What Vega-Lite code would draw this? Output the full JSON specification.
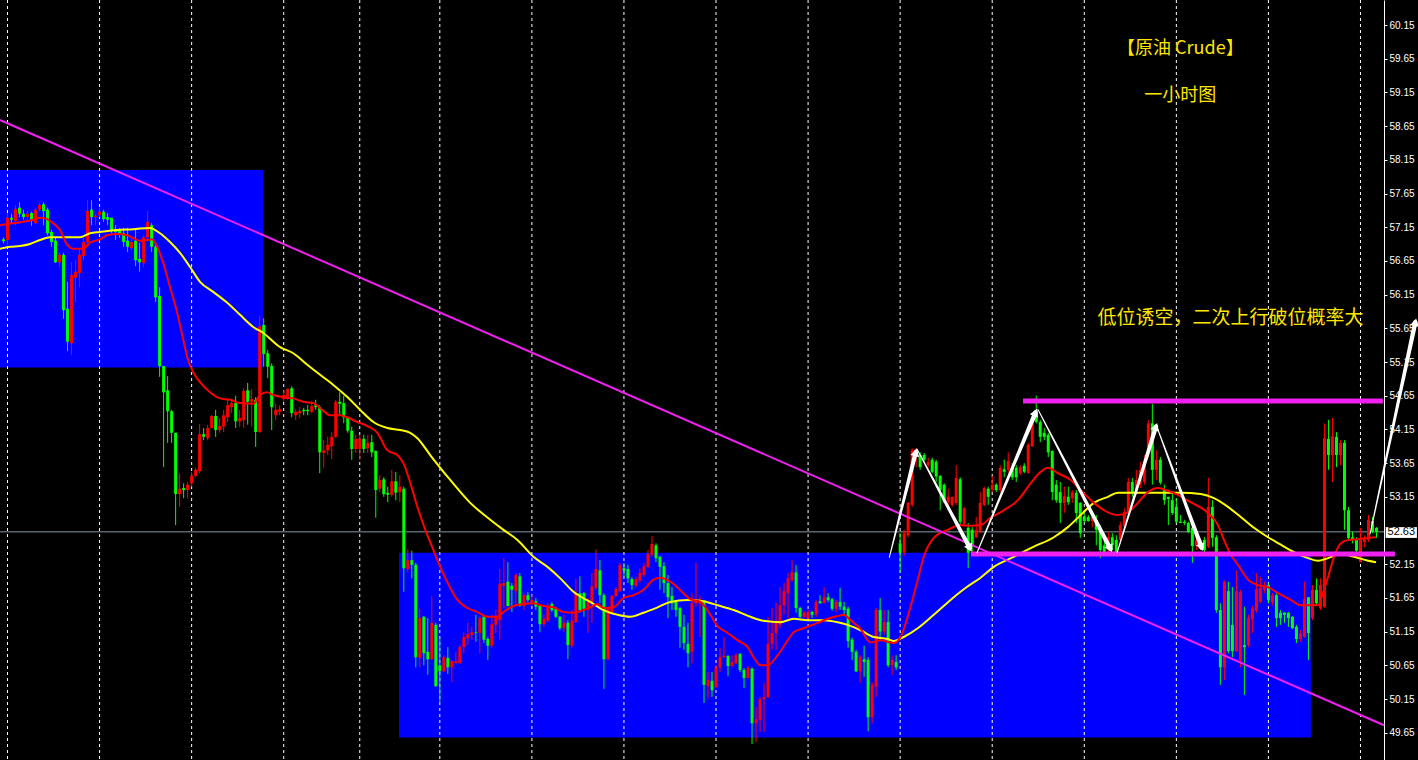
{
"$schema":"https://vega.github.io/schema/vega-lite/v6.json",
"width":1384,"height":760,"autosize":{"type":"none"},
"padding":{"left":0,"top":0,"right":34,"bottom":0},
"background":"#000000",
"config":{"view":{"stroke":null},"axis":{"labelOverlap":false},"axisY":{"labelOverlap":false}},
"datasets":{
"zones":[{"x1":-0.875,"x2":64.9,"p1":58.00,"p2":55.07},{"x1":98.8,"x2":326.6,"p1":52.32,"p2":49.58}],
"grid":[{"i":1},{"i":24},{"i":47},{"i":70},{"i":89},{"i":109},{"i":132},{"i":155},{"i":178},{"i":201},{"i":224},{"i":247},{"i":270},{"i":293},{"i":316},{"i":339}],
"last":[{"p":52.63}],
"candles":[
{"i":0,"o":56.97,"h":57.00,"l":56.91,"c":56.94},{"i":1,"o":56.96,"h":57.36,"l":56.89,"c":57.29},{"i":2,"o":57.29,"h":57.35,"l":57.21,"c":57.26},{"i":3,"o":57.24,"h":57.48,"l":57.18,"c":57.42},{"i":4,"o":57.44,"h":57.52,"l":57.30,"c":57.35},{"i":5,"o":57.35,"h":57.41,"l":57.26,"c":57.30},{"i":6,"o":57.30,"h":57.39,"l":57.26,"c":57.35},{"i":7,"o":57.36,"h":57.38,"l":57.17,"c":57.26},{"i":8,"o":57.21,"h":57.44,"l":57.20,"c":57.41},{"i":9,"o":57.41,"h":57.51,"l":57.38,"c":57.48},
{"i":10,"o":57.49,"h":57.52,"l":57.18,"c":57.39},{"i":11,"o":57.41,"h":57.44,"l":57.03,"c":57.06},{"i":12,"o":57.08,"h":57.11,"l":56.86,"c":56.93},{"i":13,"o":56.95,"h":57.00,"l":56.62,"c":56.63},{"i":14,"o":56.63,"h":56.77,"l":56.56,"c":56.74},{"i":15,"o":56.74,"h":56.77,"l":55.79,"c":55.92},{"i":16,"o":55.94,"h":56.34,"l":55.31,"c":55.45},{"i":17,"o":55.43,"h":56.63,"l":55.25,"c":56.44},{"i":18,"o":56.40,"h":56.66,"l":56.04,"c":56.49},{"i":19,"o":56.47,"h":56.84,"l":56.26,"c":56.74},
{"i":20,"o":56.72,"h":56.99,"l":56.66,"c":56.93},{"i":21,"o":56.93,"h":57.55,"l":56.91,"c":57.39},{"i":22,"o":57.41,"h":57.55,"l":57.18,"c":57.30},{"i":23,"o":57.30,"h":57.35,"l":57.18,"c":57.32},{"i":24,"o":57.33,"h":57.44,"l":57.30,"c":57.38},{"i":25,"o":57.38,"h":57.41,"l":57.23,"c":57.27},{"i":26,"o":57.30,"h":57.36,"l":57.18,"c":57.26},{"i":27,"o":57.29,"h":57.29,"l":57.06,"c":57.09},{"i":28,"o":57.12,"h":57.18,"l":56.96,"c":57.08},{"i":29,"o":57.11,"h":57.14,"l":56.99,"c":57.05},
{"i":30,"o":57.06,"h":57.14,"l":56.86,"c":56.93},{"i":31,"o":56.95,"h":57.14,"l":56.78,"c":56.86},{"i":32,"o":56.84,"h":57.00,"l":56.81,"c":56.93},{"i":33,"o":56.95,"h":57.11,"l":56.57,"c":56.66},{"i":34,"o":56.68,"h":56.92,"l":56.49,"c":56.63},{"i":35,"o":56.62,"h":57.03,"l":56.56,"c":57.00},{"i":36,"o":57.00,"h":57.39,"l":56.96,"c":57.23},{"i":37,"o":57.18,"h":57.21,"l":56.78,"c":56.86},{"i":38,"o":56.86,"h":56.89,"l":56.04,"c":56.11},{"i":39,"o":56.13,"h":56.26,"l":54.93,"c":55.09},
{"i":40,"o":55.09,"h":55.09,"l":53.59,"c":54.70},{"i":41,"o":54.73,"h":54.94,"l":53.95,"c":54.42},{"i":42,"o":54.42,"h":54.44,"l":53.95,"c":54.10},{"i":43,"o":54.10,"h":54.10,"l":52.73,"c":53.19},{"i":44,"o":53.19,"h":53.50,"l":53.00,"c":53.27},{"i":45,"o":53.28,"h":53.35,"l":53.13,"c":53.25},{"i":46,"o":53.25,"h":53.37,"l":53.12,"c":53.33},{"i":47,"o":53.35,"h":53.52,"l":53.30,"c":53.46},{"i":48,"o":53.46,"h":53.58,"l":53.44,"c":53.55},{"i":49,"o":53.53,"h":54.23,"l":53.50,"c":54.08},
{"i":50,"o":54.08,"h":54.17,"l":53.99,"c":54.04},{"i":51,"o":54.02,"h":54.22,"l":53.99,"c":54.17},{"i":52,"o":54.17,"h":54.36,"l":54.17,"c":54.35},{"i":53,"o":54.35,"h":54.44,"l":54.04,"c":54.14},{"i":54,"o":54.14,"h":54.32,"l":54.10,"c":54.20},{"i":55,"o":54.19,"h":54.44,"l":54.11,"c":54.36},{"i":56,"o":54.33,"h":54.60,"l":54.26,"c":54.51},{"i":57,"o":54.48,"h":54.61,"l":54.39,"c":54.54},{"i":58,"o":54.54,"h":54.65,"l":54.17,"c":54.27},{"i":59,"o":54.27,"h":54.44,"l":54.19,"c":54.32},
{"i":60,"o":54.29,"h":54.76,"l":54.17,"c":54.72},{"i":61,"o":54.73,"h":54.84,"l":54.22,"c":54.56},{"i":62,"o":54.56,"h":54.75,"l":54.19,"c":54.60},{"i":63,"o":54.59,"h":54.63,"l":53.89,"c":54.11},{"i":64,"o":54.11,"h":55.83,"l":54.10,"c":55.68},{"i":65,"o":55.70,"h":55.80,"l":55.08,"c":55.27},{"i":66,"o":55.28,"h":55.33,"l":54.91,"c":55.08},{"i":67,"o":55.09,"h":55.13,"l":54.14,"c":54.48},{"i":68,"o":54.36,"h":54.53,"l":54.29,"c":54.44},{"i":69,"o":54.41,"h":54.51,"l":54.36,"c":54.45},
{"i":70,"o":54.60,"h":54.73,"l":54.56,"c":54.66},{"i":71,"o":54.60,"h":54.76,"l":54.59,"c":54.75},{"i":72,"o":54.76,"h":54.79,"l":54.33,"c":54.39},{"i":73,"o":54.36,"h":54.45,"l":54.29,"c":54.41},{"i":74,"o":54.39,"h":54.48,"l":54.32,"c":54.42},{"i":75,"o":54.44,"h":54.47,"l":54.36,"c":54.42},{"i":76,"o":54.44,"h":54.51,"l":54.36,"c":54.42},{"i":77,"o":54.41,"h":54.57,"l":54.39,"c":54.50},{"i":78,"o":54.51,"h":54.59,"l":54.44,"c":54.48},{"i":79,"o":54.48,"h":54.51,"l":53.50,"c":53.81},
{"i":80,"o":53.80,"h":53.99,"l":53.58,"c":53.84},{"i":81,"o":53.84,"h":54.04,"l":53.77,"c":53.92},{"i":82,"o":53.90,"h":54.11,"l":53.71,"c":54.04},{"i":83,"o":54.04,"h":54.59,"l":54.02,"c":54.56},{"i":84,"o":54.56,"h":54.70,"l":54.36,"c":54.53},{"i":85,"o":54.54,"h":54.65,"l":54.24,"c":54.33},{"i":86,"o":54.33,"h":54.33,"l":54.10,"c":54.13},{"i":87,"o":54.13,"h":54.19,"l":53.70,"c":53.86},{"i":88,"o":53.86,"h":54.07,"l":53.80,"c":54.01},{"i":89,"o":53.86,"h":54.07,"l":53.70,"c":54.01},
{"i":90,"o":54.01,"h":54.07,"l":53.80,"c":53.86},{"i":91,"o":53.87,"h":54.07,"l":53.80,"c":53.95},{"i":92,"o":53.96,"h":54.07,"l":53.74,"c":53.81},{"i":93,"o":53.83,"h":53.84,"l":52.84,"c":53.25},{"i":94,"o":53.27,"h":53.47,"l":53.22,"c":53.40},{"i":95,"o":53.41,"h":53.44,"l":53.15,"c":53.19},{"i":96,"o":53.21,"h":53.30,"l":53.07,"c":53.18},{"i":97,"o":53.18,"h":53.55,"l":53.15,"c":53.38},{"i":98,"o":53.38,"h":53.52,"l":53.10,"c":53.21},{"i":99,"o":53.22,"h":53.47,"l":53.07,"c":53.30},
{"i":100,"o":53.27,"h":53.30,"l":51.74,"c":52.09},{"i":101,"o":52.08,"h":52.37,"l":52.03,"c":52.21},{"i":102,"o":52.21,"h":52.35,"l":51.94,"c":52.14},{"i":103,"o":52.14,"h":52.17,"l":50.62,"c":50.77},{"i":104,"o":50.76,"h":51.49,"l":50.62,"c":51.35},{"i":105,"o":51.37,"h":51.38,"l":50.65,"c":50.83},{"i":106,"o":50.85,"h":51.35,"l":50.51,"c":50.74},{"i":107,"o":50.74,"h":51.68,"l":50.73,"c":51.28},{"i":108,"o":51.25,"h":51.28,"l":50.33,"c":50.34},{"i":109,"o":50.65,"h":51.06,"l":50.10,"c":50.56},
{"i":110,"o":50.56,"h":50.80,"l":50.55,"c":50.77},{"i":111,"o":50.76,"h":50.92,"l":50.52,"c":50.62},{"i":112,"o":50.62,"h":50.73,"l":50.40,"c":50.71},{"i":113,"o":50.68,"h":50.85,"l":50.68,"c":50.71},{"i":114,"o":50.68,"h":50.95,"l":50.68,"c":50.92},{"i":115,"o":50.92,"h":51.14,"l":50.83,"c":51.07},{"i":116,"o":51.05,"h":51.28,"l":50.95,"c":51.11},{"i":117,"o":51.10,"h":51.22,"l":51.03,"c":51.14},{"i":118,"o":51.14,"h":51.40,"l":51.00,"c":51.13},{"i":119,"o":51.13,"h":51.38,"l":50.83,"c":51.35},
{"i":120,"o":51.37,"h":51.40,"l":50.98,"c":51.03},{"i":121,"o":51.04,"h":51.07,"l":50.73,"c":50.94},{"i":122,"o":50.94,"h":51.40,"l":50.91,"c":51.26},{"i":123,"o":51.25,"h":51.47,"l":51.13,"c":51.37},{"i":124,"o":51.32,"h":52.08,"l":51.03,"c":51.86},{"i":125,"o":51.83,"h":52.24,"l":51.50,"c":51.87},{"i":126,"o":51.89,"h":52.18,"l":51.52,"c":51.53},{"i":127,"o":51.83,"h":51.87,"l":51.44,"c":51.77},{"i":128,"o":51.75,"h":52.02,"l":51.54,"c":51.99},{"i":129,"o":51.97,"h":52.02,"l":51.52,"c":51.53},
{"i":130,"o":51.53,"h":51.72,"l":51.47,"c":51.69},{"i":131,"o":51.69,"h":51.74,"l":51.59,"c":51.62},{"i":132,"o":51.59,"h":51.69,"l":51.54,"c":51.62},{"i":133,"o":51.60,"h":51.65,"l":51.47,"c":51.52},{"i":134,"o":51.53,"h":51.54,"l":51.14,"c":51.26},{"i":135,"o":51.26,"h":51.40,"l":51.22,"c":51.34},{"i":136,"o":51.31,"h":51.57,"l":51.29,"c":51.53},{"i":137,"o":51.56,"h":51.59,"l":51.44,"c":51.47},{"i":138,"o":51.49,"h":51.52,"l":51.35,"c":51.37},{"i":139,"o":51.37,"h":51.38,"l":51.17,"c":51.20},
{"i":140,"o":51.20,"h":51.40,"l":51.14,"c":51.28},{"i":141,"o":51.28,"h":51.32,"l":50.74,"c":50.95},{"i":142,"o":50.94,"h":51.47,"l":50.91,"c":51.31},{"i":143,"o":51.29,"h":51.93,"l":51.28,"c":51.72},{"i":144,"o":51.72,"h":51.97,"l":51.43,"c":51.47},{"i":145,"o":51.72,"h":51.74,"l":51.37,"c":51.49},{"i":146,"o":51.47,"h":51.65,"l":51.13,"c":51.59},{"i":147,"o":51.57,"h":52.02,"l":51.28,"c":51.82},{"i":148,"o":51.80,"h":52.37,"l":51.77,"c":52.08},{"i":149,"o":52.06,"h":52.21,"l":51.57,"c":51.69},
{"i":150,"o":51.69,"h":51.72,"l":50.30,"c":50.74},{"i":151,"o":50.74,"h":51.51,"l":50.73,"c":51.51},{"i":152,"o":51.43,"h":51.69,"l":51.40,"c":51.68},{"i":153,"o":51.68,"h":51.81,"l":51.66,"c":51.78},{"i":154,"o":51.75,"h":52.17,"l":51.74,"c":52.14},{"i":155,"o":52.09,"h":52.17,"l":51.96,"c":52.06},{"i":156,"o":52.08,"h":52.14,"l":51.87,"c":51.94},{"i":157,"o":51.93,"h":51.96,"l":51.77,"c":51.84},{"i":158,"o":51.83,"h":51.96,"l":51.81,"c":51.93},{"i":159,"o":51.91,"h":52.09,"l":51.87,"c":52.02},
{"i":160,"o":51.99,"h":52.17,"l":51.96,"c":52.12},{"i":161,"o":52.11,"h":52.36,"l":52.09,"c":52.30},{"i":162,"o":52.29,"h":52.57,"l":52.26,"c":52.45},{"i":163,"o":52.43,"h":52.46,"l":52.18,"c":52.24},{"i":164,"o":52.26,"h":52.27,"l":51.77,"c":52.11},{"i":165,"o":52.12,"h":52.18,"l":51.72,"c":51.87},{"i":166,"o":51.87,"h":51.99,"l":51.35,"c":51.66},{"i":167,"o":51.68,"h":51.81,"l":51.47,"c":51.57},{"i":168,"o":51.59,"h":51.62,"l":51.37,"c":51.47},{"i":169,"o":51.50,"h":51.52,"l":50.91,"c":51.22},
{"i":170,"o":51.22,"h":51.40,"l":50.88,"c":50.98},{"i":171,"o":50.97,"h":51.28,"l":50.62,"c":50.83},{"i":172,"o":50.85,"h":51.72,"l":50.68,"c":51.57},{"i":173,"o":51.57,"h":52.17,"l":51.52,"c":51.62},{"i":174,"o":51.57,"h":51.68,"l":51.07,"c":51.63},{"i":175,"o":51.59,"h":51.62,"l":50.09,"c":50.36},{"i":176,"o":50.34,"h":50.55,"l":50.16,"c":50.43},{"i":177,"o":50.42,"h":50.55,"l":50.18,"c":50.28},{"i":178,"o":50.33,"h":50.65,"l":50.31,"c":50.62},{"i":179,"o":50.62,"h":50.91,"l":50.55,"c":50.77},
{"i":180,"o":50.77,"h":51.07,"l":50.76,"c":50.79},{"i":181,"o":50.79,"h":50.80,"l":50.49,"c":50.64},{"i":182,"o":50.64,"h":50.80,"l":50.62,"c":50.70},{"i":183,"o":50.68,"h":50.83,"l":50.67,"c":50.80},{"i":184,"o":50.82,"h":50.83,"l":50.55,"c":50.58},{"i":185,"o":50.58,"h":50.61,"l":50.31,"c":50.46},{"i":186,"o":50.46,"h":50.64,"l":50.46,"c":50.61},{"i":187,"o":50.60,"h":50.62,"l":49.48,"c":49.79},{"i":188,"o":49.79,"h":50.03,"l":49.51,"c":49.85},{"i":189,"o":49.84,"h":50.18,"l":49.66,"c":50.15},
{"i":190,"o":50.15,"h":50.39,"l":49.66,"c":50.18},{"i":191,"o":50.18,"h":51.37,"l":50.16,"c":50.97},{"i":192,"o":50.97,"h":51.50,"l":50.88,"c":51.13},{"i":193,"o":51.13,"h":51.59,"l":50.88,"c":51.28},{"i":194,"o":51.25,"h":51.81,"l":51.20,"c":51.54},{"i":195,"o":51.54,"h":51.87,"l":51.40,"c":51.75},{"i":196,"o":51.72,"h":52.02,"l":51.35,"c":51.94},{"i":197,"o":51.91,"h":52.21,"l":51.89,"c":52.03},{"i":198,"o":52.03,"h":52.14,"l":51.43,"c":51.50},{"i":199,"o":51.50,"h":51.52,"l":51.35,"c":51.37},
{"i":200,"o":51.37,"h":51.46,"l":51.35,"c":51.43},{"i":201,"o":51.35,"h":51.47,"l":51.34,"c":51.44},{"i":202,"o":51.44,"h":51.46,"l":51.35,"c":51.40},{"i":203,"o":51.40,"h":51.62,"l":51.37,"c":51.59},{"i":204,"o":51.60,"h":51.69,"l":51.57,"c":51.57},{"i":205,"o":51.57,"h":51.81,"l":51.57,"c":51.66},{"i":206,"o":51.66,"h":51.72,"l":51.59,"c":51.62},{"i":207,"o":51.63,"h":51.65,"l":51.46,"c":51.49},{"i":208,"o":51.49,"h":51.62,"l":51.44,"c":51.59},{"i":209,"o":51.59,"h":51.80,"l":51.47,"c":51.52},
{"i":210,"o":51.52,"h":51.59,"l":51.38,"c":51.47},{"i":211,"o":51.49,"h":51.52,"l":50.91,"c":51.01},{"i":212,"o":51.03,"h":51.06,"l":50.73,"c":50.85},{"i":213,"o":50.85,"h":50.88,"l":50.55,"c":50.56},{"i":214,"o":50.56,"h":50.80,"l":50.39,"c":50.77},{"i":215,"o":50.74,"h":50.94,"l":50.48,"c":50.70},{"i":216,"o":50.73,"h":50.77,"l":49.67,"c":49.88},{"i":217,"o":49.88,"h":50.40,"l":49.79,"c":50.36},{"i":218,"o":50.33,"h":51.50,"l":50.18,"c":51.47},{"i":219,"o":51.47,"h":51.65,"l":51.03,"c":51.15},
{"i":220,"o":51.15,"h":51.47,"l":51.10,"c":51.29},{"i":221,"o":51.29,"h":51.47,"l":50.62,"c":50.65},{"i":222,"o":50.65,"h":50.80,"l":50.51,"c":50.73},{"i":223,"o":50.70,"h":50.80,"l":50.58,"c":50.62},{"i":224,"o":52.46,"h":52.61,"l":52.03,"c":52.32},{"i":225,"o":52.32,"h":52.66,"l":52.27,"c":52.61},{"i":226,"o":52.58,"h":53.07,"l":52.55,"c":53.06},{"i":227,"o":53.03,"h":53.87,"l":53.00,"c":53.84},{"i":228,"o":53.74,"h":53.87,"l":53.59,"c":53.86},{"i":229,"o":53.77,"h":53.81,"l":53.55,"c":53.59},
{"i":230,"o":53.77,"h":53.80,"l":53.67,"c":53.70},{"i":231,"o":53.62,"h":53.73,"l":53.58,"c":53.67},{"i":232,"o":53.70,"h":53.73,"l":53.50,"c":53.52},{"i":233,"o":53.67,"h":53.70,"l":53.37,"c":53.45},{"i":234,"o":53.46,"h":53.47,"l":52.95,"c":53.25},{"i":235,"o":53.33,"h":53.35,"l":53.06,"c":53.07},{"i":236,"o":53.07,"h":53.27,"l":52.95,"c":53.15},{"i":237,"o":53.03,"h":53.15,"l":53.00,"c":53.15},{"i":238,"o":53.06,"h":53.62,"l":53.03,"c":53.43},{"i":239,"o":53.41,"h":53.44,"l":52.73,"c":52.78},
{"i":240,"o":52.75,"h":53.00,"l":52.70,"c":52.98},{"i":241,"o":52.69,"h":52.76,"l":52.09,"c":52.32},{"i":242,"o":52.66,"h":52.70,"l":52.29,"c":52.41},{"i":243,"o":52.55,"h":52.85,"l":52.54,"c":52.66},{"i":244,"o":52.64,"h":53.22,"l":52.61,"c":53.06},{"i":245,"o":53.03,"h":53.30,"l":53.01,"c":53.28},{"i":246,"o":53.27,"h":53.30,"l":53.03,"c":53.15},{"i":247,"o":53.25,"h":53.46,"l":53.22,"c":53.33},{"i":248,"o":53.33,"h":53.35,"l":53.22,"c":53.25},{"i":249,"o":53.25,"h":53.62,"l":53.22,"c":53.58},
{"i":250,"o":53.56,"h":53.70,"l":53.44,"c":53.52},{"i":251,"o":53.55,"h":53.81,"l":53.50,"c":53.68},{"i":252,"o":53.58,"h":53.65,"l":53.40,"c":53.44},{"i":253,"o":53.58,"h":53.62,"l":53.37,"c":53.44},{"i":254,"o":53.50,"h":53.62,"l":53.47,"c":53.59},{"i":255,"o":53.61,"h":53.65,"l":53.50,"c":53.52},{"i":256,"o":53.50,"h":53.95,"l":53.50,"c":53.92},{"i":257,"o":53.90,"h":54.36,"l":53.89,"c":54.29},{"i":258,"o":54.44,"h":54.65,"l":54.24,"c":54.26},{"i":259,"o":54.26,"h":54.29,"l":53.96,"c":54.04},
{"i":260,"o":54.10,"h":54.17,"l":53.99,"c":54.04},{"i":261,"o":54.07,"h":54.10,"l":53.74,"c":53.81},{"i":262,"o":53.83,"h":53.84,"l":53.10,"c":53.22},{"i":263,"o":53.33,"h":53.40,"l":53.06,"c":53.10},{"i":264,"o":53.22,"h":53.37,"l":52.76,"c":53.06},{"i":265,"o":53.06,"h":53.30,"l":52.91,"c":53.16},{"i":266,"o":53.15,"h":53.30,"l":53.03,"c":53.07},{"i":267,"o":53.13,"h":53.25,"l":53.06,"c":53.22},{"i":268,"o":53.21,"h":53.25,"l":52.76,"c":52.91},{"i":269,"o":53.06,"h":53.07,"l":52.54,"c":52.61},
{"i":270,"o":52.86,"h":52.92,"l":52.76,"c":52.79},{"i":271,"o":52.85,"h":52.88,"l":52.78,"c":52.79},{"i":272,"o":52.79,"h":52.91,"l":52.70,"c":52.85},{"i":273,"o":52.81,"h":52.88,"l":52.43,"c":52.66},{"i":274,"o":52.69,"h":52.73,"l":52.24,"c":52.36},{"i":275,"o":52.43,"h":52.51,"l":52.29,"c":52.33},{"i":276,"o":52.36,"h":52.63,"l":52.32,"c":52.55},{"i":277,"o":52.55,"h":52.61,"l":52.36,"c":52.43},{"i":278,"o":52.51,"h":52.58,"l":52.29,"c":52.33},{"i":279,"o":52.51,"h":52.78,"l":52.46,"c":52.73},
{"i":280,"o":52.72,"h":52.98,"l":52.66,"c":52.92},{"i":281,"o":52.92,"h":53.43,"l":52.88,"c":53.37},{"i":282,"o":53.37,"h":53.43,"l":53.15,"c":53.22},{"i":283,"o":53.25,"h":53.55,"l":53.18,"c":53.40},{"i":284,"o":53.34,"h":53.67,"l":53.28,"c":53.55},{"i":285,"o":53.37,"h":53.77,"l":53.33,"c":53.67},{"i":286,"o":53.89,"h":54.29,"l":53.74,"c":54.24},{"i":287,"o":54.24,"h":54.53,"l":53.33,"c":53.55},{"i":288,"o":53.55,"h":53.84,"l":53.40,"c":53.70},{"i":289,"o":53.70,"h":53.74,"l":53.33,"c":53.36},
{"i":290,"o":53.25,"h":53.33,"l":53.03,"c":53.10},{"i":291,"o":53.15,"h":53.15,"l":52.73,"c":53.12},{"i":292,"o":53.10,"h":53.21,"l":52.88,"c":52.91},{"i":293,"o":53.00,"h":53.13,"l":52.76,"c":52.78},{"i":294,"o":52.78,"h":52.88,"l":52.76,"c":52.76},{"i":295,"o":52.78,"h":52.81,"l":52.73,"c":52.76},{"i":296,"o":52.76,"h":52.78,"l":52.61,"c":52.63},{"i":297,"o":52.69,"h":52.70,"l":52.17,"c":52.42},{"i":298,"o":52.42,"h":52.54,"l":52.36,"c":52.51},{"i":299,"o":52.38,"h":52.54,"l":52.36,"c":52.51},
{"i":300,"o":52.51,"h":52.55,"l":52.33,"c":52.36},{"i":301,"o":52.41,"h":53.43,"l":52.39,"c":53.00},{"i":302,"o":53.00,"h":53.10,"l":52.41,"c":52.54},{"i":303,"o":52.55,"h":52.58,"l":51.43,"c":51.47},{"i":304,"o":51.47,"h":51.57,"l":50.36,"c":50.62},{"i":305,"o":50.62,"h":51.91,"l":50.43,"c":51.89},{"i":306,"o":51.75,"h":51.89,"l":50.83,"c":50.86},{"i":307,"o":51.25,"h":51.81,"l":50.77,"c":50.86},{"i":308,"o":50.86,"h":52.06,"l":50.85,"c":51.75},{"i":309,"o":50.73,"h":51.77,"l":50.62,"c":51.74},
{"i":310,"o":50.95,"h":51.52,"l":50.21,"c":50.92},{"i":311,"o":50.95,"h":51.40,"l":50.92,"c":51.35},{"i":312,"o":51.34,"h":51.53,"l":51.13,"c":51.49},{"i":313,"o":51.46,"h":52.02,"l":51.43,"c":51.78},{"i":314,"o":51.59,"h":51.96,"l":51.57,"c":51.80},{"i":315,"o":51.77,"h":51.89,"l":51.72,"c":51.81},{"i":316,"o":51.84,"h":51.87,"l":51.57,"c":51.62},{"i":317,"o":51.59,"h":51.72,"l":51.54,"c":51.69},{"i":318,"o":51.69,"h":51.72,"l":51.22,"c":51.35},{"i":319,"o":51.43,"h":51.47,"l":51.25,"c":51.35},
{"i":320,"o":51.43,"h":51.44,"l":51.28,"c":51.40},{"i":321,"o":51.43,"h":51.44,"l":51.22,"c":51.35},{"i":322,"o":51.37,"h":51.38,"l":51.19,"c":51.20},{"i":323,"o":51.22,"h":51.25,"l":50.98,"c":51.04},{"i":324,"o":51.04,"h":51.17,"l":51.00,"c":51.12},{"i":325,"o":51.07,"h":51.89,"l":51.06,"c":51.63},{"i":326,"o":51.66,"h":51.66,"l":50.73,"c":51.13},{"i":327,"o":51.35,"h":51.84,"l":51.32,"c":51.77},{"i":328,"o":51.77,"h":51.94,"l":51.54,"c":51.57},{"i":329,"o":51.50,"h":51.94,"l":51.47,"c":51.84},
{"i":330,"o":51.52,"h":54.24,"l":51.50,"c":54.02},{"i":331,"o":54.01,"h":54.29,"l":53.55,"c":53.77},{"i":332,"o":53.77,"h":54.32,"l":53.37,"c":54.05},{"i":333,"o":54.04,"h":54.11,"l":53.59,"c":53.77},{"i":334,"o":53.77,"h":53.99,"l":53.62,"c":53.95},{"i":335,"o":53.95,"h":53.99,"l":52.66,"c":52.95},{"i":336,"o":52.95,"h":53.00,"l":52.51,"c":52.54},{"i":337,"o":52.55,"h":52.63,"l":52.46,"c":52.51},{"i":338,"o":52.51,"h":52.55,"l":52.32,"c":52.35},{"i":339,"o":52.18,"h":52.69,"l":52.18,"c":52.51},
{"i":340,"o":52.48,"h":52.58,"l":52.40,"c":52.52},{"i":341,"o":52.51,"h":52.88,"l":52.48,"c":52.81},{"i":342,"o":52.79,"h":52.85,"l":52.61,"c":52.63},{"i":343,"o":52.69,"h":52.70,"l":52.54,"c":52.63}
],
"maFast":[
{"i":-0.9,"p":57.18},{"i":2.4,"p":57.21},{"i":4.9,"p":57.23},{"i":7.4,"p":57.26},{"i":9.1,"p":57.29},{"i":10.9,"p":57.27},{"i":12.4,"p":57.21},{"i":14.1,"p":57.11},{"i":15.9,"p":56.89},{"i":17.4,"p":56.83},{"i":19.9,"p":56.83},{"i":21.6,"p":56.92},{"i":24.1,"p":56.97},{"i":25.9,"p":57.03},{"i":28.4,"p":57.05},{"i":30.9,"p":57.03},{"i":32.4,"p":56.99},{"i":34.1,"p":56.95},{"i":35.9,"p":56.96},{"i":37.1,"p":56.97},{"i":38.4,"p":56.86},{"i":39.9,"p":56.62},{"i":41.6,"p":56.26},{"i":43.4,"p":55.88},{"i":44.9,"p":55.48},{"i":46.1,"p":55.18},{"i":47.4,"p":55.00},{"i":49.1,"p":54.85},{"i":51.6,"p":54.70},{"i":54.1,"p":54.61},{"i":56.6,"p":54.59},{"i":59.1,"p":54.54},{"i":62.4,"p":54.53},{"i":64.1,"p":54.66},{"i":65.9,"p":54.70},{"i":67.4,"p":54.66},{"i":69.9,"p":54.63},{"i":72.4,"p":54.61},{"i":74.9,"p":54.56},{"i":77.4,"p":54.54},{"i":79.6,"p":54.44},{"i":81.6,"p":54.36},{"i":84.1,"p":54.36},{"i":85.9,"p":54.33},{"i":88.4,"p":54.26},{"i":90.9,"p":54.20},{"i":93.4,"p":54.10},{"i":95.9,"p":53.84},{"i":98.4,"p":53.77},{"i":99.9,"p":53.65},{"i":101.6,"p":53.36},{"i":103.4,"p":53.00},{"i":105.4,"p":52.66},{"i":107.4,"p":52.36},{"i":109.1,"p":52.11},{"i":111.6,"p":51.80},{"i":113.4,"p":51.62},{"i":115.9,"p":51.50},{"i":118.4,"p":51.44},{"i":120.9,"p":51.37},{"i":123.4,"p":51.37},{"i":124.9,"p":51.44},{"i":127.4,"p":51.53},{"i":129.9,"p":51.56},{"i":132.4,"p":51.57},{"i":134.9,"p":51.53},{"i":137.4,"p":51.51},{"i":139.9,"p":51.44},{"i":142.4,"p":51.43},{"i":144.9,"p":51.47},{"i":146.6,"p":51.51},{"i":148.4,"p":51.56},{"i":149.9,"p":51.50},{"i":152.4,"p":51.51},{"i":154.9,"p":51.65},{"i":157.4,"p":51.69},{"i":159.9,"p":51.77},{"i":162.4,"p":51.92},{"i":164.1,"p":51.95},{"i":166.6,"p":51.89},{"i":169.9,"p":51.72},{"i":171.6,"p":51.63},{"i":174.1,"p":51.59},{"i":176.6,"p":51.40},{"i":178.4,"p":51.23},{"i":180.9,"p":51.13},{"i":183.4,"p":51.02},{"i":185.9,"p":50.92},{"i":187.4,"p":50.77},{"i":189.1,"p":50.65},{"i":190.9,"p":50.65},{"i":193.4,"p":50.80},{"i":195.9,"p":51.02},{"i":197.4,"p":51.14},{"i":199.9,"p":51.20},{"i":203.4,"p":51.28},{"i":205.9,"p":51.34},{"i":208.4,"p":51.38},{"i":209.9,"p":51.40},{"i":211.6,"p":51.32},{"i":214.1,"p":51.19},{"i":216.6,"p":50.99},{"i":219.1,"p":51.02},{"i":222.4,"p":50.98},{"i":224.1,"p":51.07},{"i":226.6,"p":51.52},{"i":228.4,"p":51.92},{"i":229.9,"p":52.26},{"i":232.4,"p":52.54},{"i":235.9,"p":52.66},{"i":239.1,"p":52.73},{"i":241.6,"p":52.72},{"i":244.1,"p":52.73},{"i":246.6,"p":52.84},{"i":249.9,"p":52.95},{"i":253.4,"p":53.10},{"i":256.6,"p":53.35},{"i":259.1,"p":53.52},{"i":260.9,"p":53.58},{"i":263.4,"p":53.50},{"i":266.6,"p":53.40},{"i":269.1,"p":53.25},{"i":272.4,"p":53.06},{"i":275.9,"p":52.92},{"i":278.4,"p":52.88},{"i":280.9,"p":52.92},{"i":283.4,"p":53.06},{"i":285.9,"p":53.22},{"i":288.4,"p":53.28},{"i":290.9,"p":53.24},{"i":293.4,"p":53.18},{"i":296.6,"p":53.07},{"i":300.9,"p":52.91},{"i":303.4,"p":52.73},{"i":304.9,"p":52.51},{"i":306.6,"p":52.29},{"i":308.4,"p":52.14},{"i":310.9,"p":51.92},{"i":313.4,"p":51.84},{"i":315.9,"p":51.81},{"i":318.4,"p":51.72},{"i":321.6,"p":51.62},{"i":324.1,"p":51.54},{"i":328.4,"p":51.54},{"i":329.6,"p":51.72},{"i":330.9,"p":51.96},{"i":332.4,"p":52.26},{"i":334.1,"p":52.46},{"i":335.9,"p":52.51},{"i":338.4,"p":52.52},{"i":340.9,"p":52.54},{"i":342.9,"p":52.55}
],
"maSlow":[
{"i":-0.9,"p":56.83},{"i":1.6,"p":56.86},{"i":4.1,"p":56.87},{"i":6.6,"p":56.90},{"i":9.1,"p":56.96},{"i":11.6,"p":57.00},{"i":14.9,"p":57.00},{"i":19.1,"p":57.00},{"i":21.6,"p":57.06},{"i":24.1,"p":57.08},{"i":28.4,"p":57.11},{"i":32.4,"p":57.12},{"i":36.6,"p":57.14},{"i":39.1,"p":57.06},{"i":41.6,"p":56.93},{"i":44.1,"p":56.77},{"i":46.6,"p":56.56},{"i":49.1,"p":56.34},{"i":52.4,"p":56.19},{"i":55.9,"p":56.03},{"i":59.1,"p":55.85},{"i":62.4,"p":55.67},{"i":64.9,"p":55.58},{"i":69.1,"p":55.37},{"i":72.4,"p":55.28},{"i":75.9,"p":55.11},{"i":79.1,"p":54.96},{"i":82.4,"p":54.81},{"i":85.9,"p":54.63},{"i":89.1,"p":54.44},{"i":92.4,"p":54.26},{"i":95.9,"p":54.17},{"i":99.1,"p":54.14},{"i":101.6,"p":54.10},{"i":103.4,"p":54.02},{"i":106.6,"p":53.77},{"i":111.6,"p":53.40},{"i":116.6,"p":53.06},{"i":121.6,"p":52.81},{"i":124.9,"p":52.66},{"i":128.4,"p":52.51},{"i":132.4,"p":52.26},{"i":135.9,"p":52.11},{"i":139.1,"p":51.94},{"i":142.4,"p":51.74},{"i":146.6,"p":51.59},{"i":149.9,"p":51.47},{"i":153.4,"p":51.40},{"i":156.6,"p":51.37},{"i":159.9,"p":51.43},{"i":163.4,"p":51.51},{"i":166.6,"p":51.59},{"i":170.9,"p":51.62},{"i":174.9,"p":51.60},{"i":178.4,"p":51.54},{"i":182.4,"p":51.47},{"i":186.6,"p":51.37},{"i":189.9,"p":51.31},{"i":194.1,"p":51.29},{"i":197.4,"p":51.34},{"i":200.9,"p":51.32},{"i":204.9,"p":51.32},{"i":208.4,"p":51.29},{"i":210.9,"p":51.25},{"i":214.1,"p":51.17},{"i":217.4,"p":51.07},{"i":220.9,"p":51.04},{"i":222.4,"p":51.01},{"i":224.9,"p":51.07},{"i":228.4,"p":51.20},{"i":232.4,"p":51.40},{"i":236.6,"p":51.62},{"i":240.4,"p":51.80},{"i":244.1,"p":51.95},{"i":247.4,"p":52.11},{"i":252.4,"p":52.26},{"i":257.4,"p":52.41},{"i":262.4,"p":52.55},{"i":265.9,"p":52.70},{"i":269.1,"p":52.88},{"i":272.4,"p":53.06},{"i":275.9,"p":53.15},{"i":278.4,"p":53.21},{"i":281.6,"p":53.21},{"i":285.9,"p":53.21},{"i":289.1,"p":53.21},{"i":294.1,"p":53.21},{"i":299.1,"p":53.19},{"i":302.4,"p":53.13},{"i":305.9,"p":53.00},{"i":309.1,"p":52.85},{"i":312.4,"p":52.69},{"i":315.9,"p":52.55},{"i":319.1,"p":52.44},{"i":322.4,"p":52.33},{"i":325.9,"p":52.24},{"i":328.4,"p":52.20},{"i":330.9,"p":52.24},{"i":334.1,"p":52.30},{"i":337.4,"p":52.26},{"i":340.9,"p":52.20},{"i":342.9,"p":52.18}
],
"trend":[{"x1":-0.875,"p1":58.74,"x2":344.875,"p2":49.76}],
"levels":[{"x1":254.7,"x2":344.6,"p":54.57},{"x1":241.7,"x2":347.6,"p":52.30}],
"arrows":[
{"a":"a1","pos":0,"i":221.3,"p":52.25},{"a":"a1","pos":1,"i":227.9,"p":53.81},
{"a":"a2","pos":0,"i":228.2,"p":53.86},{"a":"a2","pos":1,"i":241.4,"p":52.39},
{"a":"a3","pos":0,"i":243.2,"p":52.32},{"a":"a3","pos":1,"i":257.8,"p":54.40},
{"a":"a4","pos":0,"i":258.4,"p":54.45},{"a":"a4","pos":1,"i":276.5,"p":52.38},
{"a":"a5","pos":0,"i":278.2,"p":52.32},{"a":"a5","pos":1,"i":287.9,"p":54.19},
{"a":"a6","pos":0,"i":288.0,"p":54.21},{"a":"a6","pos":1,"i":299.3,"p":52.40},
{"a":"a7","pos":0,"i":341.4,"p":52.60},{"a":"a7","pos":1,"i":352.7,"p":55.74}
],
"heads":[
{"i":227.9,"p":53.81,"heading":14},{"i":241.4,"p":52.39,"heading":152},{"i":257.8,"p":54.40,"heading":23},{"i":276.5,"p":52.38,"heading":153},{"i":287.9,"p":54.19,"heading":17},{"i":299.3,"p":52.40,"heading":159},{"i":352.7,"p":55.74,"heading":12}
],
"notes":[
{"i":294.0,"p":59.80,"t":"【原油 Crude】","s":18},
{"i":294.0,"p":59.09,"t":"一小时图","s":18},
{"i":306.5,"p":55.81,"t":"低位诱空，二次上行破位概率大","s":19}
],
"tag":[{"x1":345.3,"x2":353.1,"p1":52.70,"p2":52.54,"i":349.2,"p":52.63,"t":"52.63"}]
},
"encoding":{
"x":{"type":"quantitative","scale":{"domain":[-0.875,344.875],"nice":false,"zero":false,"padding":0},"axis":null},
"y":{"type":"quantitative","scale":{"domain":[49.245,60.521],"nice":false,"zero":false,"padding":0},
 "axis":{"orient":"right","values":[49.65,50.15,50.65,51.15,51.65,52.15,53.15,53.65,54.15,54.65,55.15,55.65,56.15,56.65,57.15,57.65,58.15,58.65,59.15,59.65,60.15],"format":".2f","grid":false,"labelOverlap":false,"domainColor":"#ffffff","tickColor":"#ffffff","tickSize":3,"labelColor":"#ffffff","labelFont":"Liberation Sans","labelFontSize":10,"labelPadding":2,"title":null}}
},
"layer":[
{"data":{"name":"zones"},"mark":{"type":"rect","color":"#0000ff"},
 "encoding":{"x":{"field":"x1","type":"quantitative"},"x2":{"field":"x2"},"y":{"field":"p1","type":"quantitative"},"y2":{"field":"p2"}}},
{"data":{"name":"grid"},"mark":{"type":"rule","color":"#ffffff","strokeWidth":1,"strokeDash":[3,3]},
 "encoding":{"x":{"field":"i","type":"quantitative"}}},
{"data":{"name":"last"},"mark":{"type":"rule","color":"#8496a8","strokeWidth":1},
 "encoding":{"y":{"field":"p","type":"quantitative"}}},
{"data":{"name":"candles"},"mark":{"type":"rule","strokeWidth":1},
 "encoding":{"x":{"field":"i","type":"quantitative"},"y":{"field":"l","type":"quantitative"},"y2":{"field":"h"},
 "color":{"condition":{"test":"datum.c >= datum.o","value":"#ff0000"},"value":"#00ff00"}}},
{"data":{"name":"candles"},"mark":{"type":"bar","width":3},
 "encoding":{"x":{"field":"i","type":"quantitative"},"y":{"field":"o","type":"quantitative"},"y2":{"field":"c"},
 "color":{"condition":{"test":"datum.c >= datum.o","value":"#ff0000"},"value":"#00ff00"}}},
{"data":{"name":"maSlow"},"mark":{"type":"line","color":"#ffff00","strokeWidth":2,"interpolate":"monotone"},
 "encoding":{"x":{"field":"i","type":"quantitative"},"y":{"field":"p","type":"quantitative"}}},
{"data":{"name":"maFast"},"mark":{"type":"line","color":"#ff0000","strokeWidth":2,"interpolate":"monotone"},
 "encoding":{"x":{"field":"i","type":"quantitative"},"y":{"field":"p","type":"quantitative"}}},
{"data":{"name":"trend"},"mark":{"type":"rule","color":"#f020f0","strokeWidth":2,"clip":false},
 "encoding":{"x":{"field":"x1","type":"quantitative"},"x2":{"field":"x2"},"y":{"field":"p1","type":"quantitative"},"y2":{"field":"p2"}}},
{"data":{"name":"levels"},"mark":{"type":"rule","color":"#f020f0","strokeWidth":5,"clip":false},
 "encoding":{"x":{"field":"x1","type":"quantitative"},"x2":{"field":"x2"},"y":{"field":"p","type":"quantitative"}}},
{"data":{"name":"arrows"},"mark":{"type":"trail","color":"#ffffff","clip":false},
 "encoding":{"x":{"field":"i","type":"quantitative"},"y":{"field":"p","type":"quantitative"},"detail":{"field":"a"},"order":{"field":"pos"},
 "size":{"field":"pos","type":"quantitative","scale":{"domain":[0,1],"range":[1,4.5]},"legend":null}}},
{"data":{"name":"heads"},"mark":{"type":"point","shape":"triangle-up","filled":true,"color":"#ffffff","opacity":1,"size":80,"clip":false},
 "encoding":{"x":{"field":"i","type":"quantitative"},"y":{"field":"p","type":"quantitative"},"angle":{"field":"heading","type":"quantitative","scale":null}}},
{"data":{"name":"notes"},"mark":{"type":"text","color":"#ffe600","font":"Noto Sans CJK SC","align":"center","baseline":"middle"},
 "encoding":{"x":{"field":"i","type":"quantitative"},"y":{"field":"p","type":"quantitative"},"text":{"field":"t"},"size":{"field":"s","type":"quantitative","scale":null}}},
{"data":{"name":"tag"},"mark":{"type":"rect","color":"#ffffff","clip":false},
 "encoding":{"x":{"field":"x1","type":"quantitative"},"x2":{"field":"x2"},"y":{"field":"p1","type":"quantitative"},"y2":{"field":"p2"}}},
{"data":{"name":"tag"},"mark":{"type":"text","color":"#000000","font":"Liberation Sans","fontSize":11,"align":"center","baseline":"middle","clip":false},
 "encoding":{"x":{"field":"i","type":"quantitative"},"y":{"field":"p","type":"quantitative"},"text":{"field":"t"}}}
]
}
